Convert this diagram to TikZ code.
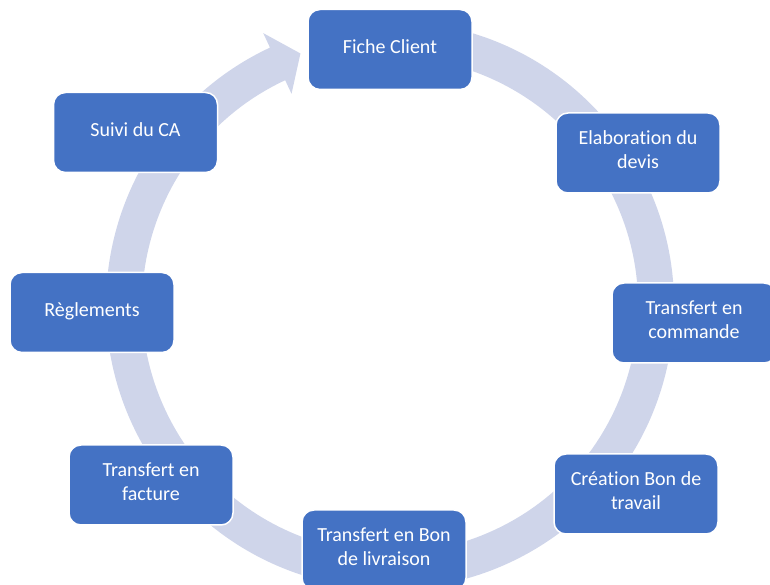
\documentclass[tikz,border=0pt]{standalone}
\usepackage{fontspec}
\setmainfont{Carlito}[Ligatures=NoCommon]
\usetikzlibrary{calc}
\definecolor{boxblue}{HTML}{4472C4}
\definecolor{bandcol}{HTML}{CFD5EA}
\begin{document}
\begin{tikzpicture}[x=1pt,y=1pt,
  stepbox/.style={rectangle, rounded corners=12pt, fill=boxblue, draw=white, line width=1.5pt,
    minimum width=164pt, minimum height=80pt, inner sep=2pt, align=center, text=white,
    text depth=6pt, font=\fontsize{20}{24}\selectfont},
  band/.style={fill=bandcol}]
\useasboundingbox (0,0) rectangle (770,585);
\clip (0,0) rectangle (770,585);
\coordinate (C) at (390,280);
\fill[band] ($(C)+(80:284)$) arc[start angle=80, end angle=-245, radius=284]
  -- ($(C)+(115:300)$) -- ($(C)+(109.6:267)$) -- ($(C)+(115:233)$)
  -- ($(C)+(115:248)$) arc[start angle=-245, end angle=80, radius=248] -- cycle;
\node[stepbox] (fiche) at (390,535.5) {Fiche Client};
\node[stepbox] (devis) at (638,432) {Elaboration du\\devis};
\node[stepbox] (cmd) at (694,262) {Transfert en\\commande};
\node[stepbox] (travail) at (636,91) {Création Bon de\\travail};
\node[stepbox] (livr) at (384,35) {Transfert en Bon\\de livraison};
\node[stepbox] (fact) at (151,100) {Transfert en\\facture};
\node[stepbox] (regl) at (92,272.5) {Règlements};
\node[stepbox] (suivi) at (135.5,452.5) {Suivi du CA};
\end{tikzpicture}
\end{document}
